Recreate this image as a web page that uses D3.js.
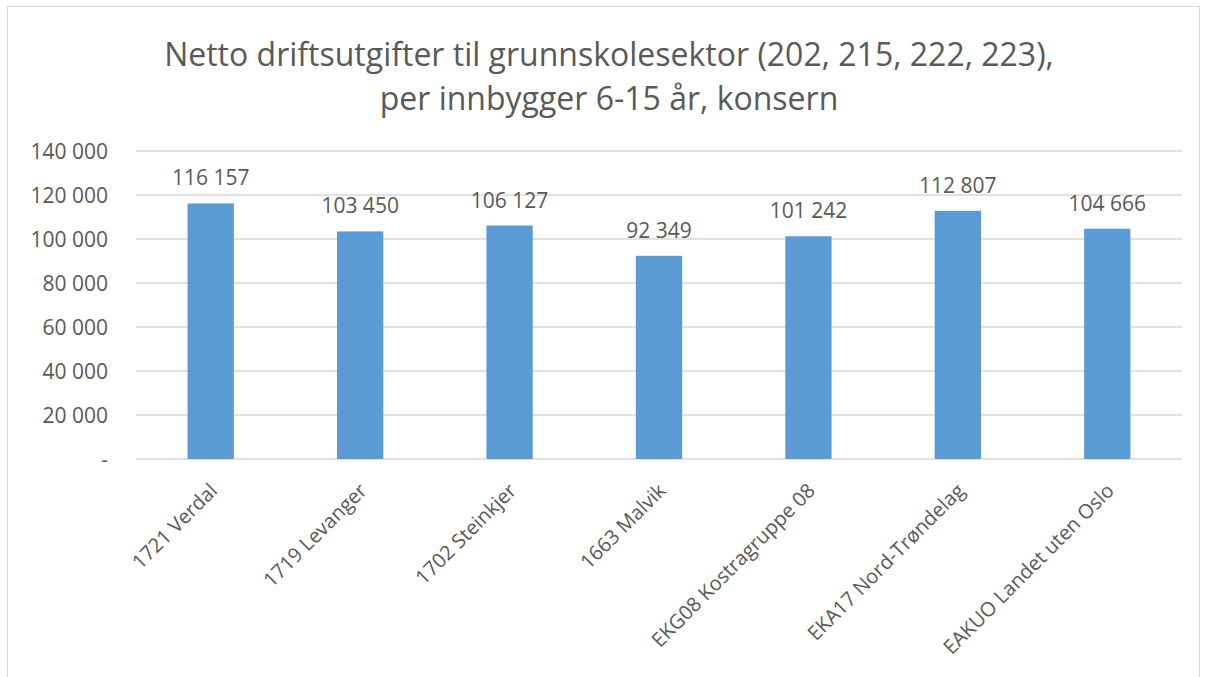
<!DOCTYPE html>
<html><head><meta charset="utf-8">
<script src="https://cdn.jsdelivr.net/npm/d3@7"></script>
<style>body{margin:0;background:#fff}svg{display:block}text{font-family:"Open Sans",sans-serif;fill:#595959}</style>
</head><body><svg id="c" width="1206" height="677"></svg>
<script>
const categories=["1721 Verdal","1719 Levanger","1702 Steinkjer","1663 Malvik","EKG08 Kostragruppe 08","EKA17 Nord-Trøndelag","EAKUO Landet uten Oslo"];
const values=[116157,103450,106127,92349,101242,112807,104666];
const yTicks=[0,20000,40000,60000,80000,100000,120000,140000];
const titleLines=["Netto driftsutgifter til grunnskolesektor (202, 215, 222, 223),","per innbygger 6-15 år, konsern"];

const svg=d3.select("#c");
svg.append("rect").attr("x",7.5).attr("y",6.5).attr("width",1192).attr("height",680).attr("fill","#fff").attr("stroke","#d9d9d9");
const m={l:136,r:1182,t:151,b:459};
const x=d3.scaleBand().domain(categories).range([m.l,m.r]).paddingInner(0.69).paddingOuter(0.345);
const y=d3.scaleLinear().domain([0,140000]).range([m.b,m.t]);
const fmt=v=>v===0?"-":d3.format(",")(v).replace(/,/g," ");

svg.append("g").selectAll("line").data(yTicks).join("line")
 .attr("x1",m.l).attr("x2",m.r).attr("y1",d=>y(d)).attr("y2",d=>y(d))
 .attr("stroke","#d9d9d9").attr("stroke-width",1.3);
const ya=svg.append("g").attr("transform",`translate(${m.l-28},0)`).call(d3.axisLeft(y).tickValues(yTicks).tickFormat(fmt).tickSize(0).tickPadding(0));
ya.select(".domain").remove();
ya.selectAll("text").style("font-size","21px").style("font-family","'Open Sans',sans-serif").attr("fill","#595959").attr("dy","0.35em");

svg.append("g").selectAll("rect").data(values).join("rect")
 .attr("x",(d,i)=>x(categories[i])).attr("width",x.bandwidth())
 .attr("y",d=>y(d)).attr("height",d=>y(0)-y(d)).attr("fill","#5b9bd5");
svg.append("g").selectAll("text").data(values).join("text")
 .attr("x",(d,i)=>x(categories[i])+x.bandwidth()/2).attr("y",d=>y(d)-18)
 .attr("text-anchor","middle").style("font-size","21px").text(fmt);

const xa=svg.append("g").attr("transform",`translate(0,${m.b})`).call(d3.axisBottom(x).tickSize(0).tickPadding(0));
xa.select(".domain").remove();
xa.selectAll("text").style("font-size","20px").style("font-family","'Open Sans',sans-serif").attr("fill","#595959")
 .attr("text-anchor","end").attr("dy","0.35em").attr("transform","translate(3,28) rotate(-45)");

svg.append("g").selectAll("text").data(titleLines).join("text")
 .attr("x",609).attr("y",(d,i)=>66+i*44).attr("text-anchor","middle")
 .style("font-size","32px").text(d=>d);
</script></body></html>
